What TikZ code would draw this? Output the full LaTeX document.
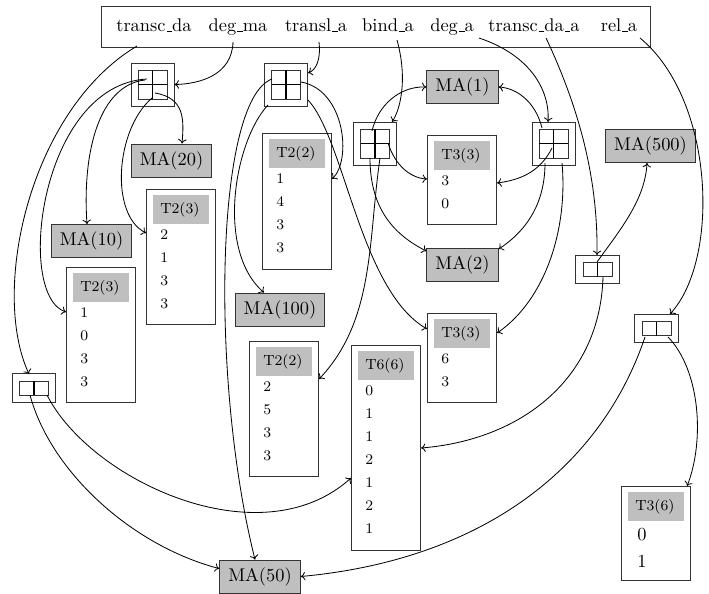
\documentclass[tikz,border=0pt]{standalone}
\usetikzlibrary{arrows.meta}
\newcommand\usc{\leavevmode\kern.06em\vbox{\hrule width.3em}}
\tikzset{
  conn/.style={line width=0.45pt, -{To[length=2.4pt,width=4.6pt]}},
  mabox/.style={draw=black!80, line width=0.5pt, fill=black!25, minimum height=17.9pt, inner xsep=4.7pt, inner ysep=0pt, font=\normalsize},
  tbox/.style={draw=black!80, line width=0.5pt, minimum width=37.6pt, inner sep=0pt},
  thead/.style={fill=black!25, minimum width=30.4pt, minimum height=15.8pt, inner xsep=3.8pt, inner ysep=0pt, text width=22.8pt, align=left, font=\footnotesize},
  tentry/.style={inner sep=0pt, font=\footnotesize},
  tbig/.style={inner sep=0pt, font=\normalsize},
  gout/.style={draw=black!80, line width=0.5pt, minimum width=23.4pt, minimum height=23.4pt, inner sep=0pt},
  sout/.style={draw=black!80, line width=0.5pt, minimum width=23.6pt, minimum height=15.5pt, inner sep=0pt},
  gin/.style={draw=black!80, line width=0.45pt},
  gx/.style={line width=0.85pt},
  word/.style={inner sep=0pt, font=\normalsize},
  barbox/.style={draw=black!80, line width=0.5pt, minimum width=298.4pt, minimum height=22.3pt, inner sep=0pt},
}
\newcommand\mygrid[2]{%
  \node[gout] (#1) at (#2) {};
  \draw[gin] ([shift={(-14.5,-14.5)}]#1.center) rectangle ([shift={(14.5,14.5)}]#1.center);
  \draw[gx] ([shift={(-14.5,0)}]#1.center) -- ([shift={(14.5,0)}]#1.center);
  \draw[gx] ([shift={(0,-14.5)}]#1.center) -- ([shift={(0,14.5)}]#1.center);
}
\newcommand\mypair[2]{%
  \node[sout] (#1) at (#2) {};
  \draw[gin] ([shift={(-14.5,-7)}]#1.center) rectangle ([shift={(14.5,7)}]#1.center);
  \draw[gx] ([shift={(0,-7)}]#1.center) -- ([shift={(0,7)}]#1.center);
}
\newcommand\mytable[5]{%
  \node[tbox, minimum height=#3, anchor=north west] (#1) at (#2) {};
  \node[thead, anchor=north west] (#1h) at ([shift={(7,-6)}]#1.north west) {#4};
  \foreach \val [count=\k] in {#5} {\node[tentry, anchor=west] (#1e\k) at ([shift={(14,{-46-23*(\k-1)})}]#1.north west) {\val};}
}
\begin{document}
\begin{tikzpicture}[x=0.5435pt,y=0.5435pt]
\useasboundingbox (0,0) rectangle (709,-593);
% top bar
\node[barbox] (bar) at (375.5,-26.5) {};
\node[word, anchor=base] (w1) at (154,-32) {transc\usc da};
\node[word, anchor=base] (w2) at (238,-32) {deg\usc ma};
\node[word, anchor=base] (w3) at (316,-32) {transl\usc a};
\node[word, anchor=base] (w4) at (388,-32) {bind\usc a};
\node[word, anchor=base] (w5) at (452,-32) {deg\usc a};
\node[word, anchor=base] (w6) at (534,-32) {transc\usc da\usc a};
\node[word, anchor=base] (w7) at (619,-32) {rel\usc a};
% grids
\mygrid{g1}{152.5,-84.5}
\mygrid{g2}{286,-84.5}
\mygrid{g3}{375,-143.5}
\mygrid{g4}{553.5,-143.5}
\mypair{L}{34,-388}
\mypair{R1}{597.5,-269.5}
\mypair{R2}{656.5,-328.5}
% MA boxes
\node[mabox] (ma20) at (171.5,-160.5) {MA(20)};
\node[mabox] (ma10) at (91.5,-241) {MA(10)};
\node[mabox] (ma1) at (462.5,-87) {MA(1)};
\node[mabox] (ma2) at (462.5,-265) {MA(2)};
\node[mabox] (ma100) at (280,-309.5) {MA(100)};
\node[mabox] (ma500) at (650.5,-146) {MA(500)};
\node[mabox] (ma50) at (260,-576.5) {MA(50)};
% tables
\mytable{tA}{146,-189}{73.4pt}{T2(3)}{2,1,3,3}
\mytable{tB}{66,-267}{73.4pt}{T2(3)}{1,0,3,3}
\mytable{tC}{262,-133}{73.9pt}{T2(2)}{1,4,3,3}
\mytable{tD}{427,-135}{48.4pt}{T3(3)}{3,0}
\mytable{tE}{427,-313}{48.4pt}{T3(3)}{6,3}
\mytable{tF}{351,-345}{111.4pt}{T6(6)}{0,1,1,2,1,2,1}
\mytable{tH}{249,-341}{73.4pt}{T2(2)}{2,5,3,3}
\node[tbox, minimum height=51.1pt, anchor=north west] (tG) at (621,-486) {};
\node[thead, anchor=north west] (tGh) at ([shift={(7,-6)}]tG.north west) {T3(6)};
\node[tbig, anchor=west] (tGe1) at ([shift={(16,-49)}]tG.north west) {0};
\node[tbig, anchor=west] (tGe2) at ([shift={(16,-75)}]tG.north west) {1};
% connectors from top words
\draw[conn] ([shift={(-17,-14)}]w1.base) .. controls (30,-110) and (-10,-290) .. ([shift={(-5,14)}]L.center);
\draw[conn] ([shift={(-5,-10)}]w2.base) .. controls (232,-75) and (200,-84) .. (g1.east);
\draw[conn] ([shift={(3,-10)}]w3.base) .. controls (321,-60) and (316,-70) .. ([shift={(22,11.5)}]g2.center);
\draw[conn] ([shift={(9,-8)}]w4.base) .. controls (408,-80) and (400,-110) .. ([shift={(17,21.5)}]g3.center);
\draw[conn] ([shift={(27,-6)}]w5.base) .. controls (530,-55) and (550,-90) .. ([shift={(-5.5,21.5)}]g4.center);
\draw[conn] ([shift={(12,-6)}]w6.base) .. controls (580,-110) and (598,-180) .. ([shift={(-0.5,14.5)}]R1.center);
\draw[conn] ([shift={(21,-6)}]w7.base) .. controls (715,-100) and (720,-260) .. ([shift={(13.5,14.5)}]R2.center);
% from g1
\draw[conn] ([shift={(-5.5,5.5)}]g1.center) .. controls (40,-85) and (15,-295) .. ([shift={(0,-45)}]tB.north west);
\draw[conn] ([shift={(-7.5,4.5)}]g1.center) .. controls (100,-85) and (82,-150) .. ([shift={(-4.5,0)}]ma10.north);
\draw[conn] ([shift={(2.5,-8.5)}]g1.center) .. controls (185,-98) and (184,-120) .. ([shift={(10.5,0)}]ma20.north);
\draw[conn] ([shift={(-0.5,-13.5)}]g1.center) .. controls (115,-130) and (110,-215) .. ([shift={(0,-44)}]tA.north west);
% from g2
\draw[conn] ([shift={(15,2.5)}]g2.center) .. controls (345,-90) and (352,-160) .. ([shift={(0,-46)}]tC.north east);
\draw[conn] ([shift={(-18,-20.5)}]g2.center) .. controls (235,-140) and (215,-250) .. ([shift={(-16,0)}]ma100.north);
\draw[conn] ([shift={(-14,5.5)}]g2.center) .. controls (215,-100) and (210,-380) .. ([shift={(-5,0)}]ma50.north);
\draw[conn] ([shift={(22,-15.5)}]g2.center) .. controls (345,-140) and (360,-290) .. ([shift={(0,-16)}]tE.north west);
% from g3
\draw[conn] ([shift={(-3,12.5)}]g3.center) .. controls (378,-105) and (400,-86) .. (ma1.west);
\draw[conn] ([shift={(13,0.5)}]g3.center) .. controls (395,-165) and (410,-178) .. ([shift={(0,-44)}]tD.north west);
\draw[conn] ([shift={(-5,-14.5)}]g3.center) .. controls (370,-210) and (395,-235) .. ([shift={(0,-3)}]ma2.north west);
\draw[conn] ([shift={(5,-14.5)}]g3.center) .. controls (368,-240) and (375,-320) .. ([shift={(0,-38)}]tH.north east);
% from g4
\draw[conn] ([shift={(-11.5,15.5)}]g4.center) .. controls (535,-100) and (515,-88) .. (ma1.east);
\draw[conn] ([shift={(-1.5,-4.5)}]g4.center) .. controls (540,-172) and (520,-180) .. ([shift={(0,-48)}]tD.north east);
\draw[conn] ([shift={(-8.5,-19.5)}]g4.center) .. controls (545,-210) and (520,-235) .. ([shift={(0,-1)}]ma2.north east);
\draw[conn] ([shift={(8.5,-19.5)}]g4.center) .. controls (568,-230) and (545,-300) .. ([shift={(0,-20)}]tE.north east);
% from R1
\draw[conn] ([shift={(-0.5,7.5)}]R1.center) .. controls (620,-230) and (645,-200) .. ([shift={(-3.5,0)}]ma500.south);
\draw[conn] ([shift={(5.5,-7.5)}]R1.center) .. controls (600,-380) and (520,-440) .. ([shift={(0,-103)}]tF.north east);
% from R2
\draw[conn] ([shift={(11.5,-8.5)}]R2.center) .. controls (700,-370) and (705,-440) .. ([shift={(-4,0)}]tG.north east);
\draw[conn] ([shift={(-11.5,-8.5)}]R2.center) .. controls (600,-470) and (480,-560) .. (ma50.east);
% from L
\draw[conn] ([shift={(-4,-7)}]L.center) .. controls (50,-470) and (130,-545) .. ([shift={(0,-9)}]ma50.north west);
\draw[conn] ([shift={(13,-7)}]L.center) .. controls (90,-480) and (260,-560) .. ([shift={(0,-133)}]tF.north west);
\end{tikzpicture}
\end{document}
